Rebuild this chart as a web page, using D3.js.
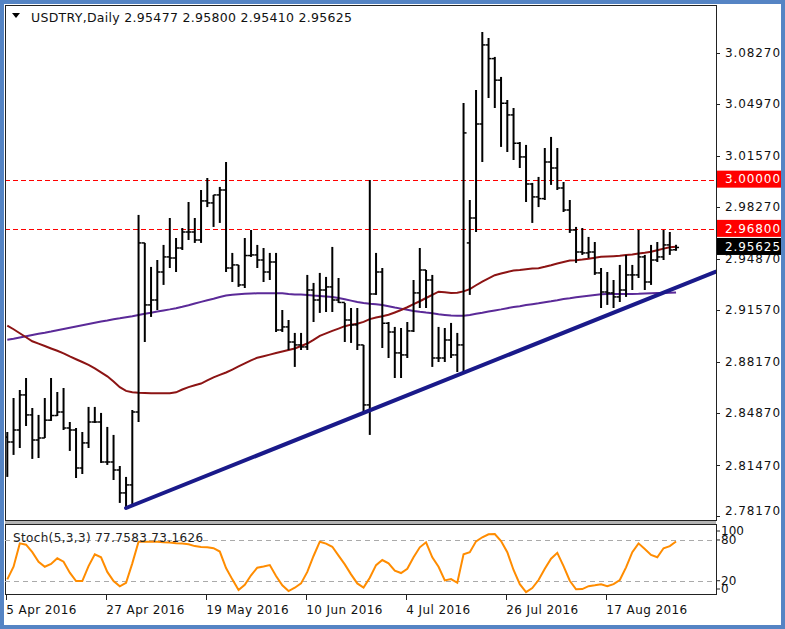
<!doctype html>
<html>
<head>
<meta charset="utf-8">
<style>
  body { margin:0; background:#fff; }
  svg { display:block; font-family:"DejaVu Sans", sans-serif; }
</style>
<script src="https://cdn.jsdelivr.net/npm/d3@7"></script>
</head>
<body>
<script>
// daily bars, 5 Apr 2016 .. 1 Sep 2016
var dateLabels = ["5 Apr 2016", "27 Apr 2016", "19 May 2016", "10 Jun 2016", "4 Jul 2016", "26 Jul 2016", "17 Aug 2016"];
var dateIdx = [0, 16, 32, 48, 64, 80, 96];

var opens = [
  2.8330, 2.8298, 2.8376, 2.8604, 2.8474, 2.8311, 2.8324, 2.8440, 2.8470, 2.8493,
  2.8389, 2.8376, 2.8129, 2.8292, 2.8428, 2.8428, 2.8168, 2.8168, 2.8116, 2.7967,
  2.8019, 2.8493, 2.9592, 2.9189, 2.9221, 2.9403, 2.9501, 2.9494, 2.9559, 2.9663,
  2.9663, 2.9611, 2.9865, 2.9852, 2.9904, 2.9936, 2.9429, 2.9449, 2.9319, 2.9510,
  2.9514, 2.9481, 2.9403, 2.9468, 2.9026, 2.9046, 2.8948, 2.8929, 2.8916, 2.9286,
  2.9221, 2.9286, 2.9306, 2.9221, 2.9205, 2.9091, 2.9059, 2.8929, 2.8539, 2.9260,
  2.9403, 2.9070, 2.9013, 2.8877, 2.8864, 2.9020, 2.9267, 2.9416, 2.9351, 2.8844,
  2.8844, 2.8961, 2.8864, 2.8929, 2.9592, 2.9754, 3.0365, 3.0879, 3.0790, 3.0650,
  3.0500, 3.0424, 3.0240, 3.0151, 2.9975, 2.9891, 2.9880, 3.0118, 3.0079, 2.9949,
  2.9806, 2.9676, 2.9533, 2.9527, 2.9533, 2.9397, 2.9273, 2.9267, 2.9241, 2.9286,
  2.9384, 2.9384, 2.9501, 2.9338, 2.9481, 2.9501, 2.9579, 2.95477
];
var highs = [
  2.8363, 2.8584, 2.8636, 2.8714, 2.8519, 2.8474, 2.8584, 2.8714, 2.8623, 2.8649,
  2.8428, 2.8389, 2.8363, 2.8526, 2.8526, 2.8487, 2.8396, 2.8344, 2.8142, 2.8071,
  2.8506, 2.9774, 2.9592, 2.9436, 2.9481, 2.9579, 2.9754, 2.9624, 2.9689, 2.9858,
  2.9754, 2.9936, 3.0014, 2.9904, 2.9956, 3.0118, 2.9527, 2.9449, 2.9624, 2.9676,
  2.9579, 2.9559, 2.9527, 2.9527, 2.9156, 2.9091, 2.9007, 2.9007, 2.9384, 2.9332,
  2.9397, 2.9371, 2.9566, 2.9364, 2.9202, 2.9169, 2.9169, 2.8929, 3.0001, 2.9527,
  2.9429, 2.9078, 2.9046, 2.9039, 2.9078, 2.9351, 2.9559, 2.9416, 2.9384, 2.9046,
  2.9039, 2.9072, 2.9007, 3.0502, 2.9871, 3.0586, 3.0963, 3.0924, 3.0801, 3.0671,
  3.0521, 3.0469, 3.0248, 3.0229, 2.9982, 3.0021, 3.0209, 3.0281, 3.0209, 2.9988,
  2.9871, 2.9696, 2.9689, 2.9631, 2.9598, 2.9429, 2.9403, 2.9351, 2.9449, 2.9514,
  2.9449, 2.9676, 2.9514, 2.9579, 2.9598, 2.9676, 2.9663, 2.95800
];
var lows = [
  2.8071, 2.8214, 2.8259, 2.8402, 2.8188, 2.8194, 2.8324, 2.8435, 2.8467, 2.8376,
  2.8240, 2.8064, 2.8090, 2.8259, 2.8422, 2.8162, 2.8149, 2.8051, 2.7902, 2.7869,
  2.7889, 2.8428, 2.8948, 2.9111, 2.9156, 2.9319, 2.9429, 2.9403, 2.9546, 2.9611,
  2.9592, 2.9592, 2.9825, 2.9696, 2.9722, 2.9403, 2.9338, 2.9306, 2.9299, 2.9501,
  2.9429, 2.9338, 2.9351, 2.9013, 2.9013, 2.8896, 2.8786, 2.8896, 2.8896, 2.9078,
  2.9137, 2.9143, 2.9143, 2.9202, 2.8948, 2.8942, 2.8896, 2.8493, 2.8344, 2.9254,
  2.8909, 2.8844, 2.8714, 2.8714, 2.8844, 2.9013, 2.9169, 2.9169, 2.8786, 2.8818,
  2.8818, 2.8844, 2.8753, 2.8753, 2.9254, 2.9663, 3.0118, 3.0534, 3.0469, 3.0216,
  3.0183, 3.0131, 3.0079, 2.9858, 2.9722, 2.9825, 2.9871, 2.9969, 2.9936, 2.9793,
  2.9657, 2.9462, 2.9514, 2.9494, 2.9384, 2.9169, 2.9189, 2.9169, 2.9208, 2.9241,
  2.9286, 2.9364, 2.9286, 2.9319, 2.9468, 2.9481, 2.9514, 2.95410
];
var closes = [
  2.8298, 2.8376, 2.8604, 2.8474, 2.8311, 2.8324, 2.8440, 2.8470, 2.8493, 2.8389,
  2.8376, 2.8129, 2.8292, 2.8428, 2.8428, 2.8168, 2.8168, 2.8116, 2.7967, 2.8019,
  2.8493, 2.9592, 2.9189, 2.9221, 2.9403, 2.9501, 2.9494, 2.9559, 2.9663, 2.9663,
  2.9611, 2.9865, 2.9852, 2.9904, 2.9936, 2.9429, 2.9449, 2.9319, 2.9510, 2.9514,
  2.9481, 2.9403, 2.9468, 2.9026, 2.9046, 2.8948, 2.8929, 2.8916, 2.9286, 2.9221,
  2.9286, 2.9306, 2.9221, 2.9205, 2.9091, 2.9059, 2.8929, 2.8539, 2.9260, 2.9403,
  2.9070, 2.9013, 2.8877, 2.8864, 2.9020, 2.9267, 2.9416, 2.9351, 2.8844, 2.8844,
  2.8961, 2.8864, 2.8929, 3.0307, 2.9754, 3.0365, 3.0879, 3.0790, 3.0650, 3.0500,
  3.0424, 3.0240, 3.0151, 2.9975, 2.9891, 2.9880, 3.0118, 3.0079, 2.9949, 2.9806,
  2.9676, 2.9533, 2.9527, 2.9533, 2.9397, 2.9273, 2.9267, 2.9241, 2.9286, 2.9384,
  2.9384, 2.9501, 2.9338, 2.9481, 2.9501, 2.9579, 2.9546, 2.95625
];

// moving averages (dark red = faster, purple = slower)
var maFast = [
  2.9055, 2.9031, 2.9005, 2.8979, 2.8953, 2.8937, 2.8922, 2.8906, 2.8891, 2.8874,
  2.8854, 2.8836, 2.8818, 2.8799, 2.8776, 2.8751, 2.8725, 2.8691, 2.8654, 2.8630,
  2.8622, 2.8618, 2.8617, 2.8615, 2.8615, 2.8615, 2.8615, 2.8621, 2.8639, 2.8655,
  2.8667, 2.8678, 2.8698, 2.8718, 2.8734, 2.8750, 2.8769, 2.8789, 2.8809, 2.8829,
  2.8846, 2.8856, 2.8866, 2.8876, 2.8886, 2.8896, 2.8906, 2.8922, 2.8938, 2.8962,
  2.8988, 2.9004, 2.9020, 2.9035, 2.9051, 2.9061, 2.9067, 2.9079, 2.9097, 2.9107,
  2.9115, 2.9125, 2.9140, 2.9156, 2.9174, 2.9194, 2.9213, 2.9234, 2.9255, 2.9275,
  2.9271, 2.9267, 2.9268, 2.9277, 2.9292, 2.9317, 2.9341, 2.9361, 2.9382, 2.9393,
  2.9403, 2.9413, 2.9416, 2.9421, 2.9425, 2.9428, 2.9437, 2.9447, 2.9458, 2.9468,
  2.9477, 2.9480, 2.9484, 2.9489, 2.9495, 2.9502, 2.9504, 2.9506, 2.9508, 2.9513,
  2.9517, 2.9523, 2.9528, 2.9534, 2.9544, 2.9555, 2.9564, 2.9567
];
var maSlow = [
  2.8962, 2.8969, 2.8977, 2.8985, 2.8993, 2.9001, 2.9008, 2.9016, 2.9025, 2.9033,
  2.9041, 2.9049, 2.9057, 2.9065, 2.9073, 2.9081, 2.9088, 2.9096, 2.9102, 2.9109,
  2.9116, 2.9124, 2.9131, 2.9138, 2.9146, 2.9153, 2.9160, 2.9168, 2.9177, 2.9187,
  2.9198, 2.9209, 2.9219, 2.9229, 2.9240, 2.9250, 2.9255, 2.9258, 2.9261, 2.9263,
  2.9265, 2.9265, 2.9265, 2.9265, 2.9265, 2.9260, 2.9257, 2.9256, 2.9254, 2.9250,
  2.9247, 2.9244, 2.9241, 2.9234, 2.9226, 2.9217, 2.9208, 2.9202, 2.9197, 2.9193,
  2.9188, 2.9180, 2.9172, 2.9165, 2.9157, 2.9150, 2.9144, 2.9139, 2.9135, 2.9128,
  2.9124, 2.9120, 2.9119, 2.9119, 2.9124, 2.9131, 2.9138, 2.9146, 2.9153, 2.9160,
  2.9168, 2.9176, 2.9181, 2.9188, 2.9194, 2.9200, 2.9207, 2.9213, 2.9220, 2.9228,
  2.9233, 2.9239, 2.9244, 2.9249, 2.9254, 2.9259, 2.9260, 2.9260, 2.9260, 2.9260,
  2.9260, 2.9261, 2.9263, 2.9265, 2.9266, 2.9267, 2.9268, 2.9270
];

var stochMain = [
  22, 40.6, 75, 73, 62, 48, 40.6, 44.6, 53, 48,
  31.8, 19.5, 19.5, 41.6, 59, 54.5, 33, 19.5, 11.7, 17,
  45.6, 77.5, 77.5, 77.5, 77.5, 76.7, 76.3, 75.2, 74.7, 73.7,
  71, 69.8, 69.3, 67.9, 63, 38.6, 22, 6.3, 14, 28,
  39.2, 41, 43.1, 27, 13.2, 4.8, 9.7, 16, 33, 56.4,
  77.5, 74.6, 70, 57, 44, 29.4, 16, 10, 24.4, 43,
  50.5, 45.6, 34.7, 31.3, 37.7, 54.5, 69.2, 76.6, 54.5, 40.6,
  20.5, 22.5, 17, 59, 62, 78, 84, 88.4, 88.8, 78.5,
  62, 35.8, 15, 3.3, 9.2, 21, 37.7, 52.4, 61, 41.6,
  20, 7.3, 7.7, 12, 13.2, 14.7, 12, 15, 21, 39.7,
  62, 75, 66.7, 58, 54.5, 67.8, 71, 77.76
];

var priceTicks = [3.0827, 3.0497, 3.0157, 2.9827, 2.9487, 2.9157, 2.8817, 2.8487, 2.8147, 2.7817];
var levels = [3.0, 2.968];
var lastPrice = 2.95625;
var stochLevels = [100, 80, 20, 0];
var stochDashed = [80, 20];
// support line anchors (bar index, price)
var trendPts = [{i: 19, p: 2.7869}, {i: 100, p: 2.9187}];

var W = 785, H = 629;
var L = 5, R = 716, T = 5, B = 520, sT = 524, sB = 594;

var x = d3.scaleLinear().domain([0, closes.length - 1]).range([7.3, 7.3 + 6.25 * (closes.length - 1)]);
var y = d3.scaleLinear().domain([2.7791, 3.11385]).range([B, T]);
var ys = d3.scaleLinear().domain([0, 100]).range([594.3, 526.4]);
var fmt = d3.format(".5f");

var svg = d3.select("body").append("svg")
  .attr("width", W)
  .attr("height", H);

svg.append("rect").attr("width", W).attr("height", H).attr("fill", "#fff");

svg.append("clipPath").attr("id", "mainClip")
  .append("rect").attr("x", L).attr("y", T).attr("width", R - L).attr("height", B - T);
svg.append("clipPath").attr("id", "subClip")
  .append("rect").attr("x", L).attr("y", sT).attr("width", R - L).attr("height", sB - sT);

var main = svg.append("g").attr("clip-path", "url(#mainClip)");

// horizontal levels
main.selectAll("line.level").data(levels).enter().append("line")
  .attr("x1", L).attr("x2", R)
  .attr("y1", function(d) { return Math.round(y(d)) + 0.5; })
  .attr("y2", function(d) { return Math.round(y(d)) + 0.5; })
  .attr("stroke", "#ff0000")
  .attr("stroke-dasharray", "5,3");

// moving averages
var line = d3.line()
  .x(function(d, i) { return x(i); })
  .y(function(d) { return y(d); });

main.append("path").datum(maSlow)
  .attr("d", line).attr("fill", "none")
  .attr("stroke", "#5b2a98").attr("stroke-width", 2);
main.append("path").datum(maFast)
  .attr("d", line).attr("fill", "none")
  .attr("stroke", "#8c1414").attr("stroke-width", 2);

// OHLC bars
var bar = main.selectAll("g.bar").data(d3.range(closes.length)).enter().append("g");
bar.append("line")
  .attr("x1", function(i) { return x(i); }).attr("x2", function(i) { return x(i); })
  .attr("y1", function(i) { return y(highs[i]); }).attr("y2", function(i) { return y(lows[i]); })
  .attr("stroke", "#000").attr("stroke-width", 2);
bar.append("line")
  .attr("x1", function(i) { return x(i) - 3; }).attr("x2", function(i) { return x(i); })
  .attr("y1", function(i) { return y(opens[i]); }).attr("y2", function(i) { return y(opens[i]); })
  .attr("stroke", "#000").attr("stroke-width", 1.5);
bar.append("line")
  .attr("x1", function(i) { return x(i); }).attr("x2", function(i) { return x(i) + 3; })
  .attr("y1", function(i) { return y(closes[i]); }).attr("y2", function(i) { return y(closes[i]); })
  .attr("stroke", "#000").attr("stroke-width", 1.5);

// trend line, extended to the right edge
var a = trendPts[0], b = trendPts[1];
var iEnd = x.invert(R);
var pEnd = a.p + (b.p - a.p) * (iEnd - a.i) / (b.i - a.i);
main.append("line")
  .attr("x1", x(a.i)).attr("y1", y(a.p))
  .attr("x2", x(iEnd)).attr("y2", y(pEnd))
  .attr("stroke", "#1a1a8a").attr("stroke-width", 4)
  .attr("stroke-linecap", "round");

// frames
svg.append("rect").attr("x", L).attr("y", B).attr("width", R - L).attr("height", sT - B)
  .attr("fill", "#b4b4b4");
svg.append("rect").attr("x", L + 0.5).attr("y", T + 0.5).attr("width", R - L).attr("height", B - T)
  .attr("fill", "none").attr("stroke", "#222");
svg.append("rect").attr("x", L + 0.5).attr("y", sT + 0.5).attr("width", R - L).attr("height", sB - sT)
  .attr("fill", "none").attr("stroke", "#222");

// title
svg.append("path").attr("d", "M12,13 L20,13 L16,18 Z").attr("fill", "#000");
svg.append("text")
  .attr("x", 31).attr("y", 22)
  .attr("font-size", 12.5).attr("letter-spacing", 0.3).attr("fill", "#111")
  .text("USDTRY,Daily  2.95477 2.95800 2.95410 2.95625");

// price axis
var pAxis = svg.append("g");
pAxis.selectAll("line").data(priceTicks).enter().append("line")
  .attr("x1", R).attr("x2", R + 4)
  .attr("y1", function(d) { return Math.round(y(d)) + 0.5; })
  .attr("y2", function(d) { return Math.round(y(d)) + 0.5; })
  .attr("stroke", "#222");
pAxis.selectAll("text").data(priceTicks).enter().append("text")
  .attr("x", 725)
  .attr("y", function(d) { return Math.min(y(d), B - 9); })
  .attr("dy", "0.36em")
  .attr("font-size", 12).attr("letter-spacing", 0.9).attr("fill", "#111")
  .text(function(d) { return fmt(d); });

// level price boxes
var boxes = levels.map(function(d) { return {p: d, c: "#ff0000"}; });
boxes.push({p: lastPrice, c: "#000"});
var box = svg.selectAll("g.box").data(boxes).enter().append("g");
box.append("rect")
  .attr("x", 717).attr("width", 66).attr("height", 17)
  .attr("y", function(d) { return y(d.p) - 9.5; })
  .attr("fill", function(d) { return d.c; });
box.append("text")
  .attr("x", 725).attr("y", function(d) { return y(d.p) - 1; })
  .attr("dy", "0.36em")
  .attr("font-size", 12).attr("letter-spacing", 0.9).attr("fill", "#fff")
  .text(function(d) { return fmt(d.p); });

// stochastic window
var sub = svg.append("g").attr("clip-path", "url(#subClip)");
sub.selectAll("line.lv").data(stochDashed).enter().append("line")
  .attr("x1", L).attr("x2", R)
  .attr("y1", function(d) { return Math.round(ys(d)) + 0.5; })
  .attr("y2", function(d) { return Math.round(ys(d)) + 0.5; })
  .attr("stroke", "#aaa").attr("stroke-dasharray", "5,4");

sub.append("path").datum(stochMain)
  .attr("d", d3.line().x(function(d, i) { return x(i); }).y(function(d) { return ys(d); }))
  .attr("fill", "none").attr("stroke", "#ff8c00").attr("stroke-width", 2);

svg.append("text")
  .attr("x", 13).attr("y", 542)
  .attr("font-size", 12).attr("letter-spacing", 0.35).attr("fill", "#222")
  .text("Stoch(5,3,3) 77.7583 73.1626");

var sAxis = svg.append("g");
sAxis.selectAll("line").data(stochLevels).enter().append("line")
  .attr("x1", R).attr("x2", R + 4)
  .attr("y1", function(d) { return Math.max(Math.min(ys(d), sB - 5), sT + 7); })
  .attr("y2", function(d) { return Math.max(Math.min(ys(d), sB - 5), sT + 7); })
  .attr("stroke", "#222");
sAxis.selectAll("text").data(stochLevels).enter().append("text")
  .attr("x", 721)
  .attr("y", function(d) { return Math.max(Math.min(ys(d), sB - 5), sT + 7); })
  .attr("dy", "0.36em")
  .attr("font-size", 12).attr("fill", "#111")
  .text(function(d) { return d; });

// date axis
var xAxis = svg.append("g");
xAxis.selectAll("line").data(dateIdx).enter().append("line")
  .attr("x1", function(d) { return Math.round(x(d)) - 0.5; })
  .attr("x2", function(d) { return Math.round(x(d)) - 0.5; })
  .attr("y1", sB).attr("y2", sB + 6)
  .attr("stroke", "#222");
xAxis.selectAll("text").data(dateIdx).enter().append("text")
  .attr("x", function(d) { return x(d) - 1; })
  .attr("y", 614)
  .attr("font-size", 12).attr("letter-spacing", 0.4).attr("fill", "#111")
  .text(function(d, i) { return dateLabels[i]; });

// outer window border
svg.append("rect").attr("x", 2).attr("y", 2).attr("width", W - 4).attr("height", H - 4)
  .attr("fill", "none").attr("stroke", "#5584c4").attr("stroke-width", 4);
</script>
</body>
</html>
